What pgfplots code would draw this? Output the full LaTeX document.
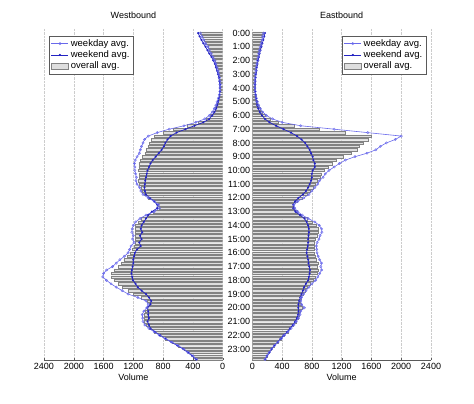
\documentclass[border=0pt]{standalone}
\usepackage{fontspec}
\setmainfont{Liberation Sans}
\usepackage{pgfplots}
\usepackage{pgfplotstable}
\pgfplotsset{compat=1.18}
\definecolor{wkday}{RGB}{105,105,235}
\definecolor{wkend}{RGB}{35,35,195}
\definecolor{barfill}{RGB}{222,222,222}
\definecolor{baredge}{RGB}{130,130,130}
\definecolor{axgray}{RGB}{90,90,90}

\pgfplotstableread{
t w e o
0 300 330 300
0.25 280 310 280
0.5 255 285 255
0.75 230 260 230
1 200 230 200
1.25 180 205 180
1.5 155 180 155
1.75 130 150 130
2 105 125 105
2.25 90 105 90
2.5 75 90 75
2.75 60 75 60
3 50 62 50
3.25 42 52 42
3.5 36 45 36
3.75 33 40 33
4 33 38 33
4.25 36 38 36
4.5 45 42 44
4.75 58 50 56
5 75 60 72
5.25 92 72 88
5.5 112 88 105
5.75 140 110 130
6 180 140 170
6.25 240 180 225
6.5 360 260 330
6.75 520 380 480
7 720 500 660
7.25 880 620 800
7.5 1000 700 915
7.75 1050 740 960
8 1070 770 985
8.25 1090 790 1005
8.5 1105 820 1025
8.75 1120 860 1045
9 1150 900 1080
9.25 1175 940 1110
9.5 1185 970 1125
9.75 1180 990 1125
10 1180 1010 1130
10.25 1170 1020 1125
10.5 1160 1030 1120
10.75 1165 1040 1130
11 1150 1045 1120
11.25 1115 1050 1095
11.5 1100 1045 1085
11.75 1070 1030 1060
12 1000 980 995
12.25 920 920 920
12.5 860 880 865
12.75 850 880 860
13 920 950 930
13.25 1030 1000 1020
13.5 1110 1030 1090
13.75 1170 1060 1140
14 1200 1090 1170
14.25 1215 1100 1180
14.5 1220 1080 1180
14.75 1200 1110 1175
15 1210 1090 1175
15.25 1190 1120 1170
15.5 1230 1100 1195
15.75 1250 1150 1220
16 1270 1180 1245
16.25 1320 1190 1285
16.5 1380 1200 1330
16.75 1430 1200 1365
17 1480 1210 1400
17.25 1560 1220 1460
17.5 1600 1225 1495
17.75 1610 1215 1500
18 1560 1205 1460
18.25 1500 1170 1405
18.5 1430 1140 1345
18.75 1350 1090 1275
19 1270 1030 1200
19.25 1140 990 1095
19.5 1030 960 1010
19.75 1000 970 990
20 1020 1010 1015
20.25 1060 1000 1040
20.5 1080 1000 1055
20.75 1075 990 1050
21 1070 1010 1050
21.25 1045 990 1030
21.5 990 970 985
21.75 920 910 915
22 850 840 845
22.25 770 770 770
22.5 680 690 680
22.75 600 610 600
23 520 530 520
23.25 460 470 460
23.5 400 410 400
23.75 350 360 345
}\west

\pgfplotstableread{
t w e o
0 150 170 140
0.25 140 160 132
0.5 130 148 124
0.75 118 135 113
1 105 122 102
1.25 95 110 92
1.5 85 98 83
1.75 76 88 75
2 68 78 67
2.25 60 70 60
2.5 54 62 54
2.75 48 56 48
3 42 50 43
3.25 38 45 39
3.5 36 42 36
3.75 35 38 35
4 36 36 36
4.25 40 38 39
4.5 46 42 45
4.75 55 48 53
5 68 56 65
5.25 85 66 80
5.5 108 80 100
5.75 140 100 128
6 190 130 175
6.25 270 170 240
6.5 400 230 350
6.75 650 320 560
7 1100 420 900
7.25 1550 520 1250
7.5 2000 600 1600
7.75 1920 660 1560
8 1800 710 1490
8.25 1720 740 1440
8.5 1660 770 1405
8.75 1540 790 1330
9 1380 810 1215
9.25 1250 820 1125
9.5 1170 840 1075
9.75 1100 840 1025
10 1030 810 965
10.25 980 800 930
10.5 950 800 905
10.75 900 790 870
11 880 770 850
11.25 840 750 815
11.5 800 720 780
11.75 760 680 740
12 690 620 670
12.25 610 575 600
12.5 560 550 555
12.75 570 550 565
13 610 580 600
13.25 670 640 660
13.5 750 700 735
13.75 840 730 810
14 900 750 855
14.25 930 760 880
14.5 935 760 885
14.75 910 755 865
15 895 750 850
15.25 870 750 835
15.5 860 745 825
15.75 865 735 830
16 870 730 830
16.25 885 740 845
16.5 905 750 860
16.75 930 755 880
17 920 765 875
17.25 930 775 885
17.5 905 770 865
17.75 880 760 845
18 850 750 820
18.25 800 720 775
18.5 760 695 740
18.75 720 680 710
19 690 660 680
19.25 660 645 655
19.5 650 630 645
19.75 660 620 650
20 700 618 675
20.25 650 620 640
20.5 640 615 630
20.75 620 600 615
21 590 575 585
21.25 560 545 555
21.5 520 505 515
21.75 480 470 475
22 430 420 425
22.25 390 380 385
22.5 345 340 342
22.75 300 295 298
23 260 260 258
23.25 225 230 225
23.5 195 200 195
23.75 170 175 168
}\east

\pgfplotsset{
  panel/.style={
    scale only axis,
    width=178.7pt, height=331.1pt,
    anchor=south west,
    y dir=reverse,
    ymin=-0.3, ymax=23.8,
    xmin=0, xmax=2400,
    xtick={0,400,...,2400},
    scaled x ticks=false,
    /pgf/number format/assume math mode=true,
    /pgf/number format/1000 sep={},
    xmajorgrids,
    grid style={densely dotted, gray!40},
    axis x line*=bottom,
    axis y line*=left,
    x axis line style={-, axgray},
    y axis line style={draw=none},
    xtick align=inside,
    major tick length=2.5pt,
    xtick style={axgray},
    ytick style={draw=none},
    xlabel={Volume},
    xlabel style={yshift=2pt},
    title style={at={(0.5,1)}, anchor=south, yshift=1pt},
    legend cell align=left,
    reverse legend,
    legend style={draw=axgray, fill=white, inner sep=1.5pt, row sep=-1pt,
      font=\fontsize{9.5}{10}\selectfont},
  },
  bars/.style={xbar, bar width=0.17, fill=barfill, draw=baredge, line width=0.3pt, area legend},
  wkdayline/.style={wkday, line width=0.6pt, mark=o, mark size=1.2pt, mark options={solid, line width=0.4pt}},
  wkendline/.style={wkend, line width=0.7pt, mark=*, mark size=0.65pt, mark options={solid}},
}

\begin{document}
\fontsize{9}{11}\selectfont%
\begin{tikzpicture}
\path[use as bounding box] (0,0) rectangle (474pt,404pt);
\begin{axis}[panel, at={(44pt,44pt)}, x dir=reverse, ytick=\empty,
  title={Westbound},
  legend style={at={(0.03,0.979)}, anchor=north west}]
\addplot[bars] table[x=o, y=t] {\west};
\addlegendentry{overall avg.}
\addplot[wkendline] table[x=e, y=t] {\west};
\addlegendentry{weekend avg.}
\addplot[wkdayline] table[x=w, y=t] {\west};
\addlegendentry{weekday avg.}
\end{axis}
\begin{axis}[panel, at={(252.3pt,44pt)},
  title={Eastbound},
  ytick={0,1,...,23},
  yticklabels={0:00,1:00,2:00,3:00,4:00,5:00,6:00,7:00,8:00,9:00,10:00,11:00,12:00,13:00,14:00,15:00,16:00,17:00,18:00,19:00,20:00,21:00,22:00,23:00},
  yticklabel style={inner sep=1pt, xshift=-1pt},
  legend style={at={(0.972,0.979)}, anchor=north east}]
\addplot[bars] table[x=o, y=t] {\east};
\addlegendentry{overall avg.}
\addplot[wkendline] table[x=e, y=t] {\east};
\addlegendentry{weekend avg.}
\addplot[wkdayline] table[x=w, y=t] {\east};
\addlegendentry{weekday avg.}
\end{axis}
\end{tikzpicture}
\end{document}
